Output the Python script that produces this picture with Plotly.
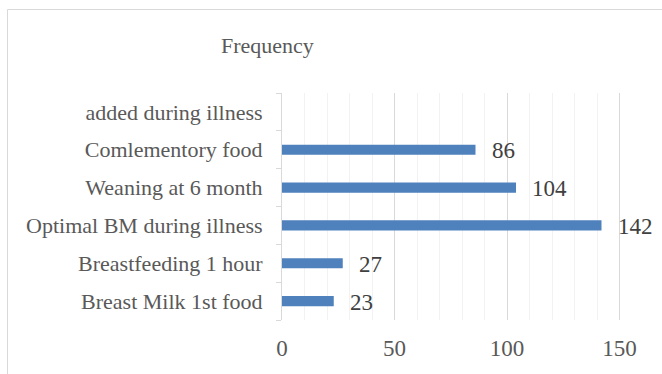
import plotly.graph_objects as go

categories = ["Breast Milk 1st food", "Breastfeeding 1 hour", "Optimal BM during illness",
              "Weaning at 6 month", "Comlementory food", "added during illness"]
values = [23, 27, 142, 104, 86, None]
x_ticks = [0, 50, 100, 150]
title_text = "Frequency"

FONT = "Liberation Serif"
TXT = "#595959"

fig = go.Figure()
fig.add_trace(go.Bar(
    y=categories, x=[v if v is not None else 0 for v in values], orientation="h",
    marker=dict(color="#4F81BD", line=dict(width=0)),
    width=0.27, hoverinfo="skip",
))

for c, v in zip(categories, values):
    if v is None:
        continue
    fig.add_annotation(x=v, y=c, text=str(v), showarrow=False, xanchor="left",
                       xshift=14, yshift=-1, font=dict(family=FONT, size=23, color="#404040"))

W, H = 662, 374
L, R, T, B = 282, 20, 93, 54
pw = W - L - R
ph = H - T - B

def px2x(px):
    return (px - L) / pw

def py2y(py):
    return (H - B - py) / ph

# chart border
fig.add_shape(type="rect", xref="paper", yref="paper",
              x0=px2x(7.5), x1=px2x(W + 10), y0=py2y(9.5), y1=py2y(H + 10),
              line=dict(color="#D9D9D9", width=1), fillcolor="rgba(0,0,0,0)", layer="below")

fig.add_annotation(xref="paper", yref="paper", x=px2x(267), y=py2y(46), text=title_text,
                   showarrow=False, xanchor="center", yanchor="middle",
                   font=dict(family=FONT, size=22, color=TXT))

fig.update_layout(
    width=W, height=H,
    margin=dict(l=L, r=R, t=T, b=B),
    paper_bgcolor="white", plot_bgcolor="white",
    showlegend=False,
    font=dict(family=FONT, size=22, color=TXT),
    xaxis=dict(range=[0, 160], tickvals=x_ticks, ticktext=[str(t) for t in x_ticks],
               showgrid=True, gridcolor="#D9D9D9", gridwidth=1,
               minor=dict(dtick=10, showgrid=True, gridcolor="#F2F2F2", gridwidth=1),
               zeroline=False, showline=False, ticks="", ticklabelstandoff=12,
               tickfont=dict(family=FONT, size=23, color=TXT), fixedrange=True),
    yaxis=dict(categoryorder="array", categoryarray=categories, showgrid=False,
               showline=True, linecolor="#D9D9D9", linewidth=1,
               ticks="outside", ticklen=5, tickcolor="#D9D9D9", tickson="boundaries",
               ticklabelstandoff=14,
               tickfont=dict(family=FONT, size=22, color=TXT), fixedrange=True),
)

fig.write_html("out.html")
